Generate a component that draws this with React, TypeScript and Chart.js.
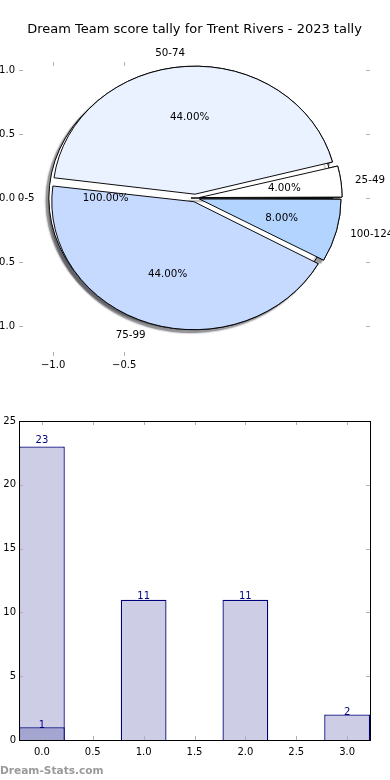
import React, { useEffect, useRef } from 'react';
import { Chart, registerables } from 'chart.js';

Chart.register(...registerables);

const CHART_TITLE = 'Dream Team score tally for Trent Rivers - 2023 tally';
const WATERMARK = 'Dream-Stats.com';
const FONT = 'DejaVu Sans';

// Pie slices (matplotlib order: counter-clockwise from 3 o'clock)
const pieCategories = ['25-49', '50-74', '75-99', '100-124'];
const pieValues = [1, 11, 11, 2];
const pieColors = ['#ffffff', '#eaf1ff', '#c6d9ff', '#b3d4ff'];
// Background single-slice pie
const backCategories = ['0-5'];
const backValues = [1];
const backColors = ['#ffffff'];

// Pie axes
const pieXTicks = [-1.0, -0.5];
const pieYTicks = [1.0, 0.5, 0.0, -0.5, -1.0];
const pieXRange = [-1.24, 1.23];
const pieYRange = [-1.234, 1.0625];

// Bar chart
const barPositions = [0, 1, 2, 3];
const barValues = [23, 11, 11, 2];
const lowPositions = [0];
const lowValues = [1];
const barXTicks = [0, 0.5, 1.0, 1.5, 2.0, 2.5, 3.0];
const barYTicks = [0, 5, 10, 15, 20, 25];
const barXRange = [-0.225, 3.225];
const barYRange = [0, 25];

const EXPLODE = 17; // chart.js offset (translates by offset/4)

function pieFrame(chart: any) {
  const { x, y } = chart.scales;
  const a = chart.chartArea;
  const ux = x.getPixelForValue(1) - x.getPixelForValue(0);
  const uy = y.getPixelForValue(0) - y.getPixelForValue(1);
  return {
    tx: x.getPixelForValue(0),
    ty: y.getPixelForValue(0),
    cx: (a.left + a.right) / 2,
    cy: (a.top + a.bottom) / 2,
    sy: uy / ux,
    ux,
  };
}

const ellipsePlugin = (shadow: boolean) => ({
  id: 'ellipse',
  beforeDatasetsDraw(chart: any) {
    const f = pieFrame(chart);
    const ctx = chart.ctx;
    ctx.save();
    ctx.translate(f.tx, f.ty);
    ctx.scale(1, f.sy);
    ctx.translate(-f.cx, -f.cy);
    if (shadow) {
      ctx.shadowColor = 'rgba(50,50,60,0.5)';
      ctx.shadowOffsetX = -3;
      ctx.shadowOffsetY = 3;
      ctx.shadowBlur = 1.5;
    }
  },
  afterDatasetsDraw(chart: any) {
    chart.ctx.restore();
  },
});

function drawSliceTexts(ctx: CanvasRenderingContext2D, f: any, arcs: any[], labels: string[], values: number[]) {
  const total = values.reduce((s, v) => s + v, 0);
  arcs.forEach((arc: any, i: number) => {
    const p = arc.getProps(['x', 'y', 'startAngle', 'endAngle', 'outerRadius', 'circumference'], true);
    const off = (arc.options.offset || 0) / 4;
    const R = p.outerRadius + off * (1 - Math.sin(Math.min(Math.PI, p.circumference)));
    const a = (p.startAngle + p.endAngle) / 2;
    const c = Math.cos(a);
    const s = Math.sin(a);
    const map = (d: number) => [f.tx + (p.x + c * d - f.cx), f.ty + (p.y + s * d - f.cy) * f.sy];
    ctx.fillStyle = '#000';
    ctx.font = `10.3px "${FONT}"`;
    ctx.textBaseline = 'middle';
    const [lx, ly] = map(off + 1.1 * R);
    ctx.textAlign = c > 0 ? 'left' : 'right';
    ctx.fillText(labels[i], lx, ly);
    const [qx, qy] = map(off + 0.6 * R);
    ctx.textAlign = 'center';
    ctx.fillText(((values[i] / total) * 100).toFixed(2) + '%', qx, qy);
  });
}

const fmt = (v: number) => v.toFixed(1).replace('-', '\u2212');

function pieConfig(labels: string[], values: number[], colors: string[], opts: { shadow: boolean; showTitle: boolean; shrink: number; plugins: any[] }) {
  return {
    type: 'pie',
    data: {
      labels,
      datasets: [
        {
          data: values,
          backgroundColor: colors,
          borderColor: '#000000',
          borderWidth: 1,
          offset: EXPLODE,
          hoverOffset: 0,
          clip: false,
          radius: (c: any) => {
            const s = c.chart.scales.x;
            return s.getPixelForValue(1) - s.getPixelForValue(0) - opts.shrink;
          },
        },
      ],
    },
    options: {
      animation: false,
      responsive: false,
      events: [],
      rotation: 90,
      layout: { padding: { left: 19, right: 20, top: 0, bottom: 34 } },
      plugins: {
        legend: { display: false },
        tooltip: { enabled: false },
        title: {
          display: true,
          text: CHART_TITLE,
          color: opts.showTitle ? '#000000' : 'rgba(0,0,0,0)',
          font: { family: FONT, size: 13, weight: 'normal' },
          padding: { top: 22, bottom: 24.4 },
        },
      },
      scales: {
        x: { type: 'linear', display: false, min: pieXRange[0], max: pieXRange[1] },
        y: { type: 'linear', display: false, min: pieYRange[0], max: pieYRange[1] },
      },
    },
    plugins: [ellipsePlugin(opts.shadow), ...opts.plugins],
  } as any;
}

export default function App() {
  const shadowRef = useRef<HTMLCanvasElement>(null);
  const backRef = useRef<HTMLCanvasElement>(null);
  const pieRef = useRef<HTMLCanvasElement>(null);
  const barRef = useRef<HTMLCanvasElement>(null);

  useEffect(() => {
    const revLabels = [...pieCategories].reverse();
    const revValues = [...pieValues].reverse();
    const revColors = [...pieColors].reverse();
    const mainShrink = (EXPLODE / 4) * 0.63;
    const backShrink = EXPLODE / 4;

    const shadowChart = new Chart(shadowRef.current as HTMLCanvasElement,
      pieConfig(revLabels, revValues, revColors, { shadow: true, showTitle: false, shrink: mainShrink, plugins: [] }));

    const backChart = new Chart(backRef.current as HTMLCanvasElement,
      pieConfig(backCategories, backValues, backColors, { shadow: true, showTitle: false, shrink: backShrink, plugins: [] }));

    const pieTexts = {
      id: 'pieTexts',
      afterDraw(chart: any) {
        const ctx = chart.ctx as CanvasRenderingContext2D;
        const f = pieFrame(chart);
        const { x, y } = chart.scales;
        const a = chart.chartArea;
        ctx.save();
        // ticks
        ctx.strokeStyle = '#b0b0b0';
        ctx.lineWidth = 1;
        ctx.beginPath();
        pieYTicks.forEach((v) => {
          const py = Math.round(y.getPixelForValue(v)) + 0.5;
          ctx.moveTo(a.left, py);
          ctx.lineTo(a.left + 4, py);
          ctx.moveTo(a.right - 4, py);
          ctx.lineTo(a.right, py);
        });
        pieXTicks.forEach((v) => {
          const px = Math.round(x.getPixelForValue(v)) + 0.5;
          ctx.moveTo(px, a.top);
          ctx.lineTo(px, a.top + 4);
          ctx.moveTo(px, a.bottom - 4);
          ctx.lineTo(px, a.bottom);
        });
        ctx.stroke();
        ctx.fillStyle = '#000';
        ctx.font = `10px "${FONT}"`;
        ctx.textBaseline = 'middle';
        ctx.textAlign = 'right';
        pieYTicks.forEach((v) => ctx.fillText(fmt(v), a.left - 4, y.getPixelForValue(v)));
        ctx.textAlign = 'center';
        pieXTicks.forEach((v) => ctx.fillText(fmt(v), x.getPixelForValue(v), a.bottom + 9.5));
        // slice labels
        drawSliceTexts(ctx, f, backChart.getDatasetMeta(0).data as any[], backCategories, backValues);
        drawSliceTexts(ctx, f, chart.getDatasetMeta(0).data as any[], revLabels, revValues);
        ctx.restore();
      },
    };

    const pieChart = new Chart(pieRef.current as HTMLCanvasElement,
      pieConfig(revLabels, revValues, revColors, { shadow: false, showTitle: true, shrink: mainShrink, plugins: [pieTexts] }));

    const barFont = { family: FONT, size: 10 };
    const barDecor = {
      id: 'barDecor',
      afterDraw(chart: any) {
        const ctx = chart.ctx as CanvasRenderingContext2D;
        const { x, y } = chart.scales;
        const a = chart.chartArea;
        ctx.save();
        // value labels
        ctx.fillStyle = '#000080';
        ctx.font = `10px "${FONT}"`;
        ctx.textAlign = 'center';
        ctx.textBaseline = 'alphabetic';
        chart.data.datasets.forEach((ds: any, di: number) => {
          const meta = chart.getDatasetMeta(di);
          meta.data.forEach((el: any, i: number) => {
            const v = ds.data[i].y;
            ctx.fillText(String(v), el.x, y.getPixelForValue(v * 1.015) + 1);
          });
        });
        // inward ticks
        ctx.strokeStyle = '#b0b0b0';
        ctx.lineWidth = 1;
        ctx.beginPath();
        barXTicks.forEach((v) => {
          const px = Math.round(x.getPixelForValue(v)) + 0.5;
          ctx.moveTo(px, a.top);
          ctx.lineTo(px, a.top + 4);
          ctx.moveTo(px, a.bottom - 4);
          ctx.lineTo(px, a.bottom);
        });
        barYTicks.forEach((v) => {
          const py = Math.round(y.getPixelForValue(v)) + 0.5;
          ctx.moveTo(a.left, py);
          ctx.lineTo(a.left + 4, py);
          ctx.moveTo(a.right - 4, py);
          ctx.lineTo(a.right, py);
        });
        ctx.stroke();
        // frame
        ctx.strokeStyle = '#000';
        ctx.strokeRect(Math.round(a.left) + 0.5, Math.round(a.top) + 0.5, Math.round(a.right - a.left), Math.round(a.bottom - a.top));
        ctx.restore();
      },
    };

    const barChart = new Chart(barRef.current as HTMLCanvasElement, {
      type: 'bar',
      data: {
        datasets: [
          {
            label: 'tally',
            data: barPositions.map((p, i) => ({ x: p, y: barValues[i] })),
            backgroundColor: '#cdcde6',
            borderColor: '#00007a',
            borderWidth: 1.3,
            grouped: false,
            order: 2,
            barPercentage: 0.9,
            categoryPercentage: 1,
          },
          {
            label: 'low',
            data: lowPositions.map((p, i) => ({ x: p, y: lowValues[i] })),
            backgroundColor: '#a5a5d2',
            borderColor: '#00007a',
            borderWidth: 1.3,
            grouped: false,
            order: 1,
            barPercentage: 0.9,
            categoryPercentage: 1,
          },
        ],
      },
      options: {
        animation: false,
        responsive: false,
        events: [],
        layout: { padding: { left: 0, right: 20, top: 31, bottom: 0 } },
        plugins: { legend: { display: false }, tooltip: { enabled: false }, title: { display: false } },
        scales: {
          x: {
            type: 'linear',
            min: barXRange[0],
            max: barXRange[1],
            offset: false,
            grid: { display: false, drawTicks: false, offset: false },
            border: { display: false },
            afterBuildTicks: (s: any) => { s.ticks = barXTicks.map((v) => ({ value: v })); },
            ticks: { callback: (v: any) => Number(v).toFixed(1), font: barFont, color: '#000', padding: 6, maxRotation: 0, minRotation: 0, autoSkip: false },
            afterFit: (s: any) => { s.height = 40; },
          },
          y: {
            type: 'linear',
            min: barYRange[0],
            max: barYRange[1],
            grid: { display: false, drawTicks: false },
            border: { display: false },
            afterBuildTicks: (s: any) => { s.ticks = barYTicks.map((v) => ({ value: v })); },
            ticks: { callback: (v: any) => String(v), font: barFont, color: '#000', padding: 3 },
            afterFit: (s: any) => { s.width = 19; },
          },
        },
      },
      plugins: [barDecor],
    } as any);

    return () => {
      shadowChart.destroy();
      backChart.destroy();
      pieChart.destroy();
      barChart.destroy();
    };
  }, []);

  const layer: React.CSSProperties = { position: 'absolute', left: 0, top: 0, width: 390, height: 390 };

  return (
    <div style={{ position: 'absolute', left: 0, top: 0, width: 390, height: 780, background: '#fff', overflow: 'hidden' }}>
      <canvas ref={shadowRef} width={390} height={390} style={layer} />
      <canvas ref={backRef} width={390} height={390} style={layer} />
      <canvas ref={pieRef} width={390} height={390} style={layer} />
      <canvas ref={barRef} width={390} height={390} style={{ ...layer, top: 390 }} />
      <div
        style={{
          position: 'absolute',
          left: 0,
          top: 763,
          font: `bold 10.6px "${FONT}"`,
          color: '#9a9a9a',
          lineHeight: '14px',
          whiteSpace: 'nowrap',
        }}
      >
        {WATERMARK}
      </div>
    </div>
  );
}
